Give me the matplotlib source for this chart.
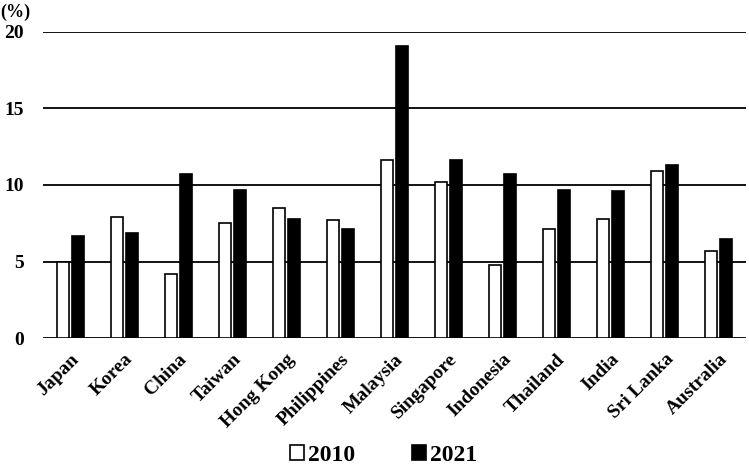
import numpy as np
import matplotlib
matplotlib.use("Agg")
import matplotlib.pyplot as plt

countries = ["Japan", "Korea", "China", "Taiwan", "Hong Kong", "Philippines",
             "Malaysia", "Singapore", "Indonesia", "Thailand", "India",
             "Sri Lanka", "Australia"]
y2010 = [5.0, 7.9, 4.2, 7.5, 8.5, 7.7, 11.6, 10.2, 4.8, 7.1, 7.8, 10.9, 5.7]
y2021 = [6.7, 6.9, 10.7, 9.7, 7.8, 7.1, 19.1, 11.6, 10.7, 9.7, 9.6, 11.3, 6.5]
yticks = [0, 5, 10, 15, 20]

plt.rcParams['font.family'] = 'Liberation Serif'
plt.rcParams['font.weight'] = 'bold'

fig = plt.figure(figsize=(7.49, 4.69), dpi=100)
ax = fig.add_axes([0.0574, 0.2787, 0.9386, 0.6537])

x = np.arange(len(countries))
w = 0.222
ax.bar(x - 0.139, y2010, w, color='white', edgecolor='black', linewidth=1.2,
       label='2010', zorder=3)
ax.bar(x + 0.139, y2021, w, color='black', edgecolor='black', linewidth=1.2,
       label='2021', zorder=3)

ax.set_xlim(-0.5, len(countries) - 0.5)
ax.set_ylim(0, 20)
ax.set_yticks(yticks)
ax.set_yticklabels([str(t) for t in yticks], fontsize=14, fontweight='bold')
for t in yticks:
    ax.axhline(t, color='black', linewidth=1.3, zorder=1)

ax.set_xticks(x)
ax.set_xticklabels(countries, rotation=45, ha='right', rotation_mode='anchor',
                   fontsize=14, fontweight='bold')
ax.tick_params(axis='both', length=0)
ax.tick_params(axis='x', pad=9)
ax.tick_params(axis='y', pad=14)
for s in ax.spines.values():
    s.set_visible(False)

fig.text(0.001, 0.955, "(%)", fontsize=13, fontweight='bold', ha='left', va='bottom')

fig.legend(loc='lower center', bbox_to_anchor=(0.512, -0.038), ncol=2,
           frameon=False, prop={'size': 17, 'weight': 'bold'},
           handlelength=0.6, handleheight=0.6, handletextpad=0.15,
           columnspacing=2.4)

fig.savefig("out.png", dpi=100)
